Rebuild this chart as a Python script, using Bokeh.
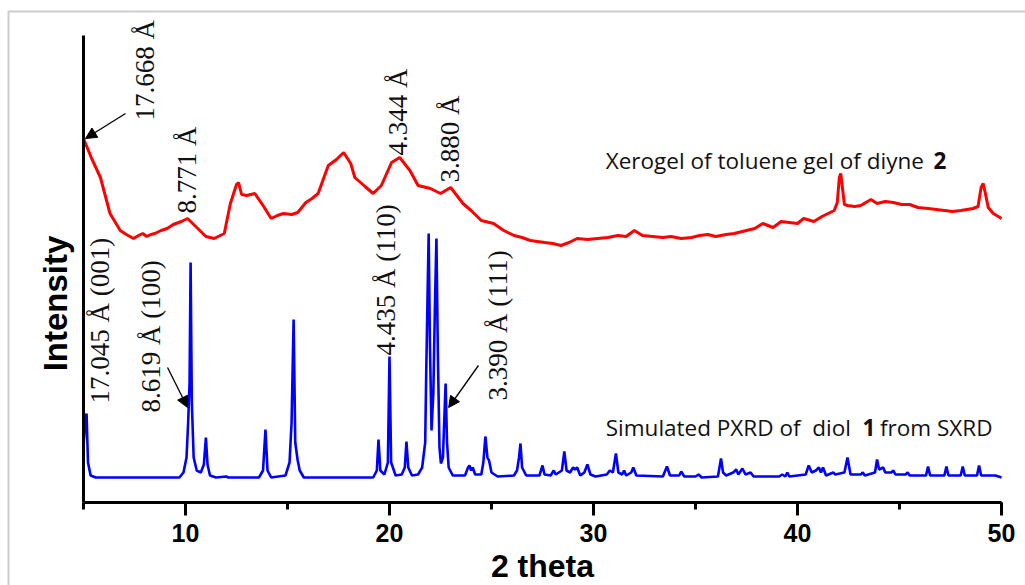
import math
from bokeh.plotting import figure
from bokeh.models import Range1d, SingleIntervalTicker, Label, Arrow, NormalHead, BoxAnnotation
from bokeh.embed import file_html
from bokeh.resources import INLINE

# ---------------- data ----------------
red_x = [5.0, 5.4, 5.83, 6.3, 6.8, 7.1, 7.45, 7.7, 7.9, 8.1, 8.3, 8.5, 8.8, 9.1, 9.4, 9.8, 10.1,
         10.4, 10.7, 11.0, 11.4, 11.9, 12.2, 12.5, 12.6, 12.75, 13.0, 13.4, 13.8, 14.2, 14.5,
         14.8, 15.2, 15.5, 15.9, 16.2, 16.5, 17.0, 17.4, 17.75, 18.1, 18.3, 18.8, 19.2, 19.6,
         20.1, 20.5, 21.0, 21.4, 22.0, 22.5, 23.0, 23.6, 24.0, 24.5, 25.1, 25.6, 26.1, 26.5,
         26.9, 27.6, 28.0, 28.4, 28.8, 29.2, 29.7, 30.2, 30.7, 31.2, 31.6, 32.0, 32.4, 32.9,
         33.4, 33.8, 34.3, 34.8, 35.2, 35.6, 36.0, 36.5, 36.9, 37.5, 37.9, 38.3, 38.8, 39.2,
         39.6, 40.0, 40.3, 40.8, 41.2, 41.5, 41.8, 41.95, 42.05, 42.12, 42.2, 42.3, 42.45,
         42.8, 43.1, 43.6, 43.9, 44.3, 44.7, 45.1, 45.5, 45.9, 46.4, 46.8, 47.2, 47.6, 48.0,
         48.3, 48.6, 48.85, 49.0, 49.1, 49.2, 49.35, 49.6, 50.0]
red_y = [364, 344, 325, 289, 272, 268, 264, 267, 269, 266, 268, 269, 272, 274, 278, 281, 284,
         278, 272, 266, 264, 269, 299, 318, 320, 308, 307, 309, 297, 284, 287,
         289, 288, 290, 300, 304, 309, 337, 343, 350, 339, 325, 316, 309, 317,
         340, 345, 332, 317, 314, 309, 315, 299, 292, 282, 279, 272, 267, 265,
         262, 260, 259, 257, 260, 264, 263, 264, 265, 267, 266, 272, 267, 266,
         265, 266, 264, 265, 267, 268, 266, 268, 269, 272, 274, 279, 275, 281,
         280, 279, 284, 281, 286, 289, 292, 300, 325, 329, 315, 298, 297,
         296, 297, 303, 299, 301, 300, 298, 298, 295, 294, 293, 292, 291, 292,
         293, 294, 296, 315, 319, 310, 295, 289, 284]

blue_x = [5.0, 5.08, 5.15, 5.22, 5.35, 5.6, 9.7, 9.9, 10.05, 10.13, 10.2, 10.25, 10.31, 10.4,
          10.55, 10.75, 10.9, 11.0, 11.08, 11.2, 11.5, 12.0, 12.1, 13.6, 13.8, 13.92, 14.02,
          14.2, 14.9, 15.1, 15.2, 15.3, 15.38, 15.5, 15.6, 15.8, 19.2, 19.38, 19.46, 19.55,
          19.75, 19.92, 20.0, 20.08, 20.3, 20.6, 20.75, 20.83, 20.92, 21.1, 21.4, 21.6, 21.75,
          21.8, 21.86, 21.92, 21.98, 22.06, 22.15, 22.23, 22.3, 22.37, 22.45, 22.52, 22.62,
          22.68, 22.75, 22.82, 22.9, 23.1, 23.7, 23.85, 23.92, 24.0, 24.08, 24.2, 24.5, 24.6,
          24.7, 24.8, 24.88, 25.0, 25.3, 26.1, 26.25, 26.35, 26.42, 26.5, 26.7, 27.35, 27.5,
          27.6, 27.9, 28.05, 28.15, 28.45, 28.57, 28.68, 28.85, 29.0, 29.1, 29.2, 29.35, 29.55,
          29.7, 29.85, 30.1, 30.65, 30.8, 30.95, 31.1, 31.22, 31.4, 31.5, 31.6, 31.85, 31.95,
          32.1, 33.4, 33.6, 33.75, 34.2, 34.3, 34.45, 35.0, 35.15, 35.3, 36.1, 36.25, 36.35,
          36.5, 36.85, 37.0, 37.1, 37.3, 37.45, 37.7, 37.85, 39.1, 39.25, 39.4, 39.5, 39.6,
          40.4, 40.55, 40.7, 40.9, 41.05, 41.15, 41.25, 41.4, 41.75, 41.85, 42.3, 42.45, 42.6,
          43.1, 43.2, 43.3, 43.8, 43.9, 44.0, 44.2, 44.3, 44.6, 44.7, 44.8, 45.3, 45.4, 45.5,
          46.3, 46.4, 46.5, 47.2, 47.3, 47.4, 48.0, 48.1, 48.2, 48.8, 48.9, 49.0, 49.7, 50.0]
blue_y = [55, 80, 89, 40, 27, 25, 25, 30, 45, 80, 120, 240, 100, 45,
          32, 30, 38, 65, 38, 27, 25, 26, 25, 25, 32, 73, 32,
          25, 27, 40, 80, 183, 60, 42, 32, 25, 25, 32, 63, 32,
          28, 40, 146, 40, 27, 28, 35, 61, 35, 27, 28, 35, 60,
          129, 200, 269, 160, 72, 110, 200, 264, 150, 55, 39, 45,
          80, 119, 60, 35, 27, 27, 35, 37, 32, 35, 28, 28, 40,
          66, 45, 42, 30, 26, 27, 32, 45, 59, 35, 27, 27, 37,
          28, 27, 32, 28, 32, 51, 32, 30, 35, 33, 35, 27, 30,
          38, 28, 26, 28, 32, 30, 49, 30, 28, 32, 27, 30, 35,
          27, 26, 36, 27, 27, 31, 26, 26, 28, 25, 26, 44, 30,
          27, 30, 33, 28, 34, 28, 30, 26, 26, 28, 26, 30, 26,
          28, 37, 30, 32, 35, 30, 35, 27, 30, 28, 30, 45, 28,
          28, 30, 27, 30, 43, 33, 35, 30, 30, 32, 28, 28, 30, 27,
          27, 36, 27, 27, 36, 27, 27, 36, 27, 27, 37, 27, 27, 25]

# peak annotations (rotated)
ann_text = ["17.668 Å", "8.771 Å", "4.344 Å", "3.880 Å",
            "17.045 Å (001)", "8.619 Å (100)", "4.435 Å (110)", "3.390 Å (111)"]
ann_x = [8.0, 10.05, 20.4, 22.95, 5.8, 8.33, 19.85, 25.3]
ann_y = [382, 289, 347, 320, 99, 90, 147, 102]

# arrows: start -> end
arr_x0 = [7.06, 9.12, 24.36]
arr_y0 = [389, 135, 137]
arr_x1 = [5.1, 10.1, 22.9]
arr_y1 = [364, 95, 95]

x_min, x_max = 5, 50
y_min, y_max = 0, 467
x_tick_interval = 10

# ---------------- layout (pixels) ----------------
W, H = 1025, 585
ax_left, ax_right, ax_top, ax_bottom = 83, 1001, 35, 502
fr_left, fr_top = 6, 9
sx = (x_max - x_min) / (ax_right - ax_left)
sy = (y_max - y_min) / (ax_bottom - ax_top)

def dx(px):
    return x_min + (px - ax_left) * sx

def dy(py):
    return y_min + (ax_bottom - py) * sy

p = figure(width=W, height=H, output_backend="svg", toolbar_location=None,
           x_range=Range1d(dx(fr_left), dx(W)), y_range=Range1d(dy(H), dy(fr_top)),
           min_border_left=fr_left, min_border_right=0, min_border_top=fr_top,
           min_border_bottom=0)
p.title.visible = False
p.background_fill_color = "white"
p.border_fill_color = "white"
p.outline_line_color = None
p.grid.visible = False

xa = p.xaxis[0]
xa.fixed_location = y_min
xa.bounds = (x_min, x_max)
xa.ticker = SingleIntervalTicker(interval=x_tick_interval, num_minor_ticks=2)
xa.axis_line_width = 3
xa.major_tick_line_width = 3
xa.minor_tick_line_width = 3
xa.major_tick_out = 13
xa.major_tick_in = 0
xa.minor_tick_out = 7
xa.minor_tick_in = 0
xa.major_label_text_font = "Liberation Sans"
xa.major_label_text_font_style = "bold"
xa.major_label_text_font_size = "25px"
xa.major_label_text_color = "black"
xa.major_label_standoff = 8

ya = p.yaxis[0]
ya.fixed_location = x_min
ya.bounds = (y_min, y_max)
ya.axis_line_width = 3
ya.major_tick_line_color = None
ya.minor_tick_line_color = None
ya.major_label_text_color = None
ya.major_label_text_font_size = "0px"

p.line(red_x, red_y, line_color="#ff0000", line_width=3)
p.line(blue_x, blue_y, line_color="#0000ff", line_width=2.6)

for t, x, y in zip(ann_text, ann_x, ann_y):
    p.add_layout(Label(x=x, y=y, text=t, angle=math.pi / 2, text_align="left",
                       text_baseline="middle", text_font="Liberation Serif",
                       text_font_size="27px", text_color="#111111"))

for x0, y0, x1, y1 in zip(arr_x0, arr_y0, arr_x1, arr_y1):
    p.add_layout(Arrow(x_start=x0, y_start=y0, x_end=x1, y_end=y1, line_width=1.3,
                       line_color="black",
                       end=NormalHead(size=11, fill_color="black", line_color="black")))

# series labels
sans = "Open Sans"
fs = "22.5px"
p.add_layout(Label(x=30.6, y=342, text="Xerogel of toluene gel of diyne", text_align="left",
                   text_baseline="alphabetic", text_font=sans, text_font_size=fs,
                   text_color="#111111"))
p.add_layout(Label(x=47.3, y=342, text="2", text_align="right", text_baseline="alphabetic",
                   text_font=sans, text_font_size=fs, text_font_style="bold",
                   text_color="#111111"))
p.add_layout(Label(x=30.6, y=75, text="Simulated PXRD of\u00a0\u00a0diol", text_align="left",
                   text_baseline="alphabetic", text_font=sans, text_font_size=fs,
                   text_color="#111111"))
p.add_layout(Label(x=43.5, y=75, text="1", text_align="center", text_baseline="alphabetic",
                   text_font=sans, text_font_size=fs, text_font_style="bold",
                   text_color="#111111"))
p.add_layout(Label(x=49.56, y=75, text="from SXRD", text_align="right",
                   text_baseline="alphabetic", text_font=sans, text_font_size=fs,
                   text_color="#111111"))

# axis titles
p.add_layout(Label(x=dx(55), y=dy(303), text="Intensity", angle=math.pi / 2, text_align="center",
                   text_baseline="middle", text_font="Liberation Sans", text_font_style="bold",
                   text_font_size="33px", text_color="black"))
p.add_layout(Label(x=(x_min + x_max) / 2, y=dy(565), text="2 theta", text_align="center",
                   text_baseline="middle", text_font="Liberation Sans", text_font_style="bold",
                   text_font_size="32px", text_color="black"))

# outer grey frame (top and left edges)
p.add_layout(BoxAnnotation(left=dx(8), right=dx(W + 50), top=dy(11), bottom=dy(H + 50),
                           fill_color=None, line_color="#555555", line_width=2, level="overlay"))

open("out.html", "w").write(file_html(p, INLINE))
